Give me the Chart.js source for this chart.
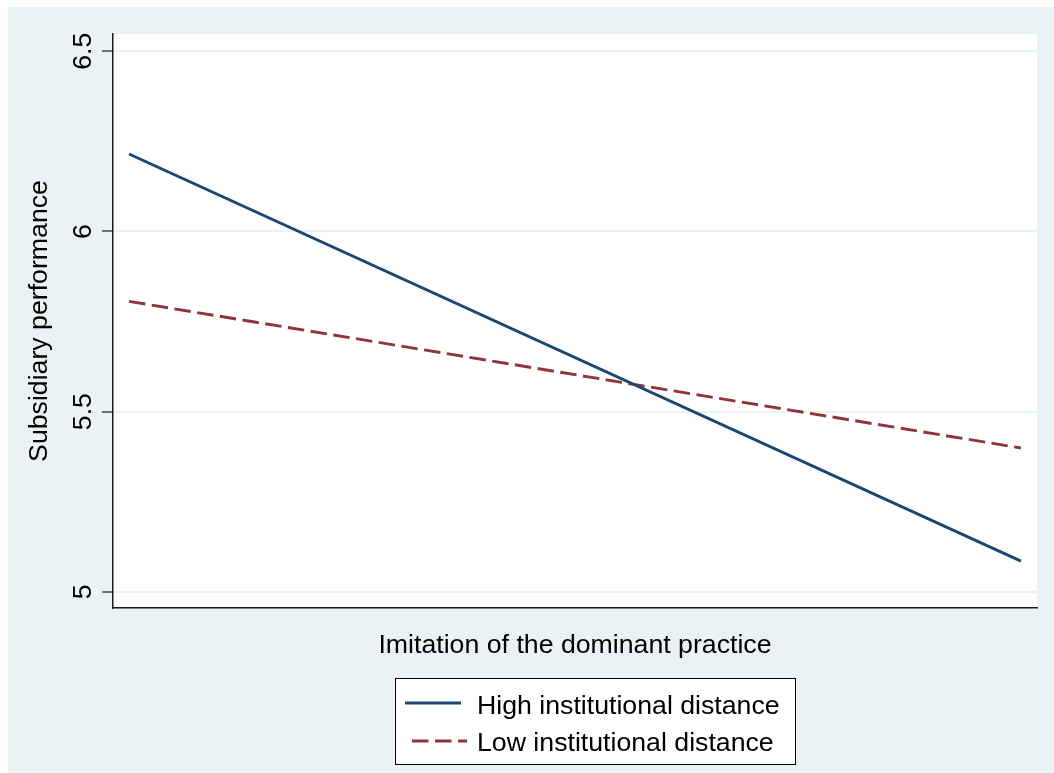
<!DOCTYPE html>
<html>
<head>
<meta charset="utf-8">
<title>Subsidiary performance</title>
<script src="https://cdn.jsdelivr.net/npm/chart.js@4.4.1/dist/chart.umd.min.js"></script>
<style>
    html, body { margin: 0; padding: 0; background: #ffffff; }
    canvas { display: block; }
</style>
</head>
<body>
<canvas id="marginsChart" width="1054" height="773"></canvas>
<script>
// values (predicted performance at low / high imitation)
const imitationLevels = [-1, 1];
const highDistance = [6.215, 5.085];
const lowDistance = [5.806, 5.399];
const yTicks = [5, 5.5, 6, 6.5];
const seriesLabels = ['High institutional distance', 'Low institutional distance'];

const FONT = 'Liberation Sans, Arial, Helvetica, sans-serif';
const FONT_SIZE = 26.7;
const BG = '#EAF2F3';

function toPoints(ys) {
    return imitationLevels.map((x, i) => ({ x: x, y: ys[i] }));
}

// Stata-like graph region + white plot region
const backgroundPlugin = {
    id: 'stataBackground',
    beforeDraw(chart) {
        const ctx = chart.ctx;
        const a = chart.chartArea;
        ctx.save();
        ctx.fillStyle = '#ffffff';
        ctx.fillRect(0, 0, chart.width, chart.height);
        ctx.fillStyle = BG;
        ctx.fillRect(8, 7, chart.width - 8, chart.height - 7);
        ctx.fillStyle = '#ffffff';
        ctx.fillRect(a.left, a.top, a.right - a.left, a.bottom - a.top);
        ctx.restore();
    }
};

// boxed legend under the x title, keys stacked in one column
const boxLegendPlugin = {
    id: 'boxLegend',
    afterDraw(chart) {
        const ctx = chart.ctx;
        const box = { left: 395, top: 678, right: 795, bottom: 764 };
        const rows = [
            { keyFrom: 405, keyTo: 461, keyY: 703, textY: 714 },
            { keyFrom: 412, keyTo: 467, keyY: 741, textY: 750.5 }
        ];
        ctx.save();
        ctx.fillStyle = '#ffffff';
        ctx.fillRect(box.left, box.top, box.right - box.left, box.bottom - box.top);
        ctx.strokeStyle = '#000000';
        ctx.lineWidth = 1;
        ctx.strokeRect(box.left + 0.5, box.top + 0.5, box.right - box.left, box.bottom - box.top);

        chart.data.datasets.forEach(function (ds, i) {
            const r = rows[i];
            ctx.beginPath();
            ctx.strokeStyle = ds.borderColor;
            ctx.lineWidth = ds.borderWidth;
            ctx.setLineDash(ds.borderDash || []);
            ctx.moveTo(r.keyFrom, r.keyY);
            ctx.lineTo(r.keyTo, r.keyY);
            ctx.stroke();
            ctx.setLineDash([]);

            ctx.fillStyle = '#000000';
            ctx.font = FONT_SIZE + 'px ' + FONT;
            ctx.textAlign = 'left';
            ctx.textBaseline = 'alphabetic';
            ctx.fillText(ds.label, 477, r.textY);
        });
        ctx.restore();
    }
};

const ctx = document.getElementById('marginsChart').getContext('2d');
const marginsChart = new Chart(ctx, {
    type: 'line',
    data: {
        datasets: [{
            label: seriesLabels[0],
            data: toPoints(highDistance),
            borderColor: '#1a476f',
            borderWidth: 2.9,
            pointRadius: 0,
            tension: 0
        }, {
            label: seriesLabels[1],
            data: toPoints(lowDistance),
            borderColor: '#90353b',
            borderWidth: 2.9,
            borderDash: [16.5, 6.5],
            pointRadius: 0,
            tension: 0
        }]
    },
    options: {
        responsive: false,
        animation: false,
        devicePixelRatio: 1,
        layout: {
            padding: { left: 0, top: 34, right: 17, bottom: 105 }
        },
        scales: {
            x: {
                type: 'linear',
                min: -1.036,
                max: 1.036,
                afterFit: function (scale) { scale.height = 60; },
                ticks: { display: false },
                grid: { display: true, drawOnChartArea: false, drawTicks: false },
                border: { display: true, color: '#1a1a1a', width: 1.5 },
                title: {
                    display: true,
                    text: 'Imitation of the dominant practice',
                    color: '#000000',
                    font: { family: FONT, size: FONT_SIZE },
                    padding: { top: 0, bottom: 6.8 }
                }
            },
            y: {
                type: 'linear',
                min: 4.955,
                max: 6.548,
                afterFit: function (scale) { scale.width = 113; },
                afterBuildTicks: function (scale) {
                    scale.ticks = yTicks.map(v => ({ value: v }));
                },
                ticks: {
                    color: '#000000',
                    font: { family: FONT, size: FONT_SIZE },
                    minRotation: 90,
                    maxRotation: 90,
                    crossAlign: 'center',
                    padding: 0,
                    callback: function (value) { return String(value); }
                },
                grid: {
                    color: BG,
                    lineWidth: 2,
                    drawTicks: true,
                    tickLength: 11,
                    tickColor: '#1a1a1a',
                    tickWidth: 1.2
                },
                border: { display: true, color: '#1a1a1a', width: 1.5 },
                title: {
                    display: true,
                    text: 'Subsidiary performance',
                    color: '#000000',
                    font: { family: FONT, size: FONT_SIZE },
                    padding: { top: 24, bottom: 0 }
                }
            }
        },
        plugins: {
            legend: { display: false },
            tooltip: { enabled: false }
        }
    },
    plugins: [backgroundPlugin, boxLegendPlugin]
});
</script>
</body>
</html>
